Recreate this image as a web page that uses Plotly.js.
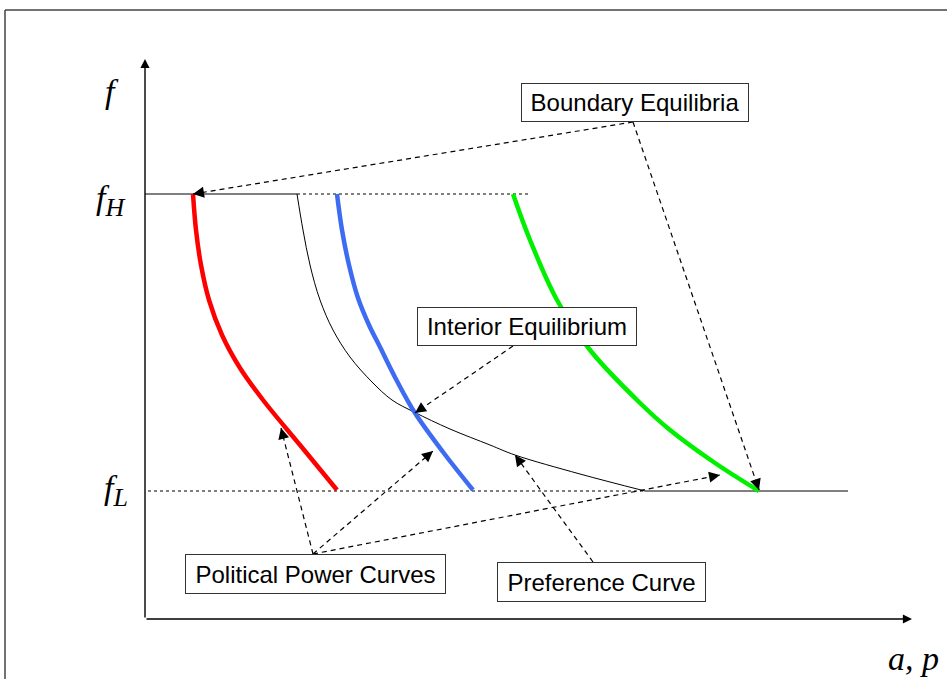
<!DOCTYPE html>
<html><head><meta charset="utf-8">
<script src="https://cdn.plot.ly/plotly-3.0.1.min.js"></script>
<style>html,body{margin:0;padding:0;background:#fff;overflow:hidden}</style>
</head><body><div id="chart" style="width:947px;height:679px"></div>
<script>
// Levels of f
const fH = 4.25, fL = 1.28;
// Political power curves (a,p on x; f on y)
const redX = [0.48, 0.51, 0.56, 0.64, 0.77, 0.95, 1.18, 1.55, 1.92];
const redY = [4.25, 3.89, 3.54, 3.19, 2.84, 2.51, 2.19, 1.74, 1.29];
const blueX = [1.92, 1.97, 2.04, 2.13, 2.24, 2.35, 2.52, 2.70, 2.98, 3.28];
const blueY = [4.25, 3.89, 3.54, 3.21, 2.94, 2.72, 2.38, 2.06, 1.67, 1.29];
const greenX = [3.68, 3.85, 4.12, 4.45, 4.95, 5.25, 5.70, 6.14];
const greenY = [4.25, 3.79, 3.19, 2.69, 2.16, 1.89, 1.56, 1.28];
// Preference curve (flat at fH, curved, flat at fL)
const prefX = [0.00, 1.52, 1.58, 1.65, 1.75, 1.88, 2.05, 2.27, 2.47, 2.69, 3.05, 3.45, 3.70, 4.35, 5.00, 7.03];
const prefY = [4.25, 4.25, 3.89, 3.54, 3.19, 2.89, 2.62, 2.37, 2.19, 2.07, 1.90, 1.74, 1.64, 1.45, 1.28, 1.28];
// Dotted extensions of fH and fL
const dotHX = [1.52, 3.83];
const dotLX = [0.03, 5.00];
// Axis lengths
const xAxisEnd = 7.67, yAxisEnd = 5.60;
// Callout boxes: label, centre, size (px)
const boxLabels = ["Boundary Equilibria", "Interior Equilibrium", "Political Power Curves", "Preference Curve"];
const boxX = [4.90, 3.82, 1.705, 4.565];
const boxY = [5.165, 2.925, 0.45, 0.37];
const boxW = [228, 220, 261, 209];
const boxH = [39, 39, 40, 40];
// Callout arrows: from (box edge) -> to (target)
const arrFromX = [4.88, 4.88, 3.68, 1.68, 1.68, 1.68, 4.48];
const arrFromY = [4.97, 4.97, 2.73, 0.65, 0.65, 0.65, 0.57];
const arrToX = [0.48, 6.14, 2.70, 1.36, 2.88, 5.75, 3.70];
const arrToY = [4.25, 1.29, 2.06, 1.91, 1.68, 1.44, 1.64];
// Axis / level labels
const axLabels = ["<i>f</i>", "<i>f<sub><span style='font-size:26px'>H</span></sub></i>", "<i>f<sub><span style='font-size:26px'>L</span></sub></i>", "<i>a, p</i>"];
const axLabX = [-0.33, -0.35, -0.29, 7.68];
const axLabY = [5.28, 4.19, 1.29, -0.39];

const traces = [];
const line = (x, y, color, width, dash, spline) => traces.push({x, y, type: 'scatter', mode: 'lines', hoverinfo: 'skip',
  line: {color, width, dash: dash || 'solid', shape: spline ? 'spline' : 'linear', smoothing: 1}});
line(dotHX, [fH, fH], '#000', 1, '3px,3px');
line(dotLX, [fL, fL], '#000', 1, '3px,3px');
const n = prefX.length;
line(prefX.slice(0, 2), prefY.slice(0, 2), '#000', 1);
line(prefX.slice(1, n - 1), prefY.slice(1, n - 1), '#000', 1, null, true);
line(prefX.slice(n - 2), prefY.slice(n - 2), '#000', 1);
line(redX, redY, '#ff0000', 4.5, null, true);
line(blueX, blueY, '#3d6cf2', 4.5, null, true);
line(greenX, greenY, '#00f000', 4.5, null, true);
for (let i = 0; i < arrFromX.length; i++) {
  traces.push({x: [arrFromX[i], arrToX[i]], y: [arrFromY[i], arrToY[i]], type: 'scatter', mode: 'lines', hoverinfo: 'skip',
    line: {color: '#000', width: 1.2, dash: '5px,4px'}});
}

const ann = [];
// axes with arrowheads
ann.push({x: 0, y: yAxisEnd, ax: 0, ay: 0, xref: 'x', yref: 'y', axref: 'x', ayref: 'y', text: '', showarrow: true, arrowhead: 2, arrowsize: 1.3, arrowwidth: 1.4, arrowcolor: '#000'});
ann.push({x: xAxisEnd, y: 0, ax: 0, ay: 0, xref: 'x', yref: 'y', axref: 'x', ayref: 'y', text: '', showarrow: true, arrowhead: 2, arrowsize: 1.3, arrowwidth: 1.4, arrowcolor: '#000'});
// arrowheads for callouts
for (let i = 0; i < arrFromX.length; i++) {
  const dx = arrFromX[i] - arrToX[i], dy = arrFromY[i] - arrToY[i];
  const len = Math.hypot(dx, dy), k = 0.06 / len;
  ann.push({x: arrToX[i], y: arrToY[i], ax: arrToX[i] + dx * k, ay: arrToY[i] + dy * k, xref: 'x', yref: 'y', axref: 'x', ayref: 'y',
    text: '', showarrow: true, arrowhead: 2, arrowsize: 2.2, arrowwidth: 1, arrowcolor: '#000'});
}
for (let i = 0; i < boxLabels.length; i++) {
  ann.push({x: boxX[i], y: boxY[i], xref: 'x', yref: 'y', text: boxLabels[i], showarrow: false,
    xanchor: 'center', yanchor: 'middle', width: boxW[i] - 2, height: boxH[i] - 2, borderpad: 0,
    bordercolor: '#333', borderwidth: 1, bgcolor: '#fff', font: {family: 'Liberation Sans, Arial', size: 24, color: '#000'}});
}
for (let i = 0; i < axLabels.length; i++) {
  ann.push({x: axLabX[i], y: axLabY[i], xref: 'x', yref: 'y', text: axLabels[i], showarrow: false,
    xanchor: 'center', yanchor: 'middle', font: {family: 'Liberation Serif, Times New Roman', size: 34, color: '#000'}});
}

const layout = {
  width: 947, height: 679, margin: {l: 0, r: 0, t: 0, b: 0},
  paper_bgcolor: '#fff', plot_bgcolor: '#fff', showlegend: false,
  xaxis: {range: [-1.45, 8.02], visible: false, fixedrange: true},
  yaxis: {range: [-0.60, 6.19], visible: false, fixedrange: true},
  annotations: ann,
  shapes: [
    {type: 'line', xref: 'paper', yref: 'paper', x0: 5/947, x1: 1, y0: 1 - 10/679, y1: 1 - 10/679, line: {color: '#444', width: 1.5}},
    {type: 'line', xref: 'paper', yref: 'paper', x0: 5/947, x1: 5/947, y0: 0, y1: 1 - 10/679, line: {color: '#444', width: 1.5}}
  ]
};
Plotly.newPlot('chart', traces, layout, {displayModeBar: false, staticPlot: true});
</script>
</body></html>
